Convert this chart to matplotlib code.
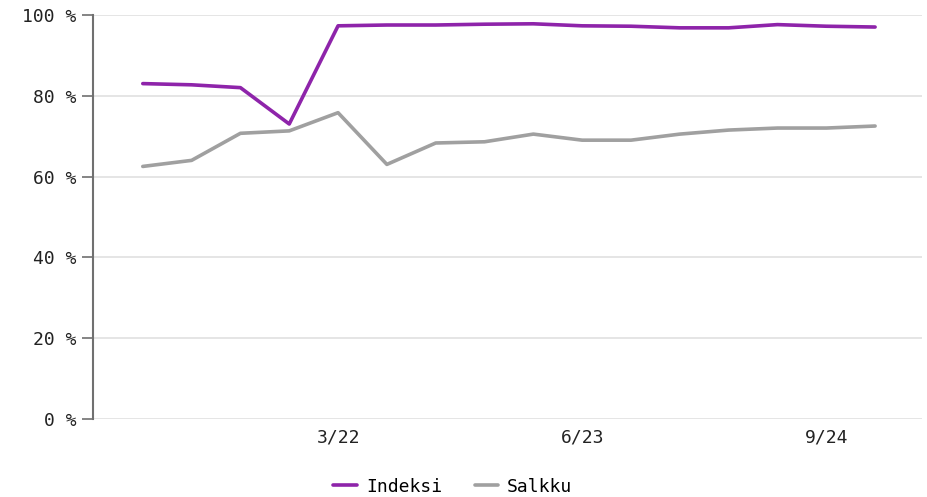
import matplotlib
matplotlib.use("Agg")
import matplotlib.pyplot as plt

quarters = ["3/21", "6/21", "9/21", "12/21", "3/22", "6/22", "9/22", "12/22",
            "3/23", "6/23", "9/23", "12/23", "3/24", "6/24", "9/24", "12/24"]
indeksi = [83.0, 82.7, 82.0, 73.0, 97.3, 97.5, 97.5, 97.7, 97.8, 97.3, 97.2, 96.8, 96.8, 97.6, 97.2, 97.0]
salkku = [62.5, 64.0, 70.7, 71.3, 75.8, 63.0, 68.3, 68.6, 70.5, 69.0, 69.0, 70.5, 71.5, 72.0, 72.0, 72.5]
tick_labels = ["3/22", "6/23", "9/24"]
y_ticks = [0, 20, 40, 60, 80, 100]

plt.rcParams['font.family'] = ['DejaVu Sans Mono']

fig = plt.figure(figsize=(9.28, 4.97), dpi=100)
ax = fig.add_axes([0.1002, 0.157, 0.8933, 0.813])

x = list(range(len(quarters)))
ax.plot(x, indeksi, color="#8e24aa", lw=2.6, label="Indeksi", solid_capstyle="round")
ax.plot(x, salkku, color="#a0a0a0", lw=2.6, label="Salkku", solid_capstyle="round")

ax.set_xlim(-1.02, 15.96)
ax.set_ylim(0, 100)
ax.set_yticks(y_ticks)
ax.set_yticklabels([f"{v} %" for v in y_ticks])
xt = [quarters.index(t) for t in tick_labels]
ax.set_xticks(xt)
ax.set_xticklabels(tick_labels)

for s in ["top", "right", "bottom"]:
    ax.spines[s].set_visible(False)
ax.spines["left"].set_color("#707070")
ax.spines["left"].set_linewidth(1.5)
ax.tick_params(axis="y", length=8, width=1.2, color="#707070", labelsize=13, pad=4, labelcolor="#222222")
ax.tick_params(axis="x", length=0, labelsize=13, pad=7, labelcolor="#222222")
ax.yaxis.grid(True, color="#e0e0e0", lw=1.2)
ax.set_axisbelow(True)

fig.legend(loc="lower center", bbox_to_anchor=(0.488, -0.03), ncol=2, frameon=False,
           fontsize=13, handlelength=1.3, columnspacing=1.8, handletextpad=0.5)

fig.savefig("out.png", dpi=100)
